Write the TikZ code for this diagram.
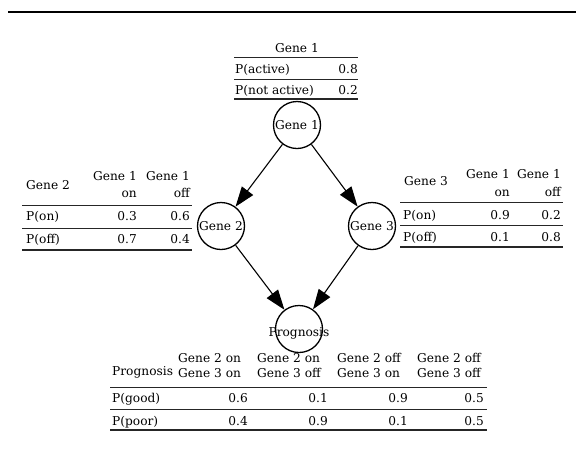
\documentclass[tikz,border=0pt]{standalone}
\usepackage{fontspec}
\setmainfont{DejaVu Serif}
\usetikzlibrary{arrows.meta}
\begin{document}
\begin{tikzpicture}[x=1pt,y=-1pt,font=\fontsize{12.2}{15}\selectfont,
  gnode/.style={circle,draw,line width=1.3pt,minimum size=47pt,inner sep=0pt},
  glabel/.style={inner sep=0pt},
  rulethin/.style={line width=0.8pt,black!85},
  rulethick/.style={line width=1.1pt,black!85},
  cell/.style={inner sep=0pt,anchor=base west},
  cellr/.style={inner sep=0pt,anchor=base east},
  hdr/.style={inner sep=0pt,align=left,anchor=north west,font=\fontsize{12.2}{15}\selectfont},
  edge/.style={line width=1.1pt,-{Triangle[length=20pt,width=14pt]}}]
\useasboundingbox (0,0) rectangle (576,459);
\draw[line width=2pt] (8,12) -- (576,12);

% Gene 1 table
\node[inner sep=0pt,anchor=base] (t1h) at (297,52) {Gene 1};
\draw[rulethin] (234,57) -- (358,57);
\node[cell] (t1a) at (235,73) {P(active)};
\node[cellr] (t1av) at (358,73) {0.8};
\draw[rulethin] (234,79) -- (358,79);
\node[cell] (t1n) at (235,94) {P(not active)};
\node[cellr] (t1nv) at (358,94) {0.2};
\draw[rulethick] (234,99) -- (358,99);

% nodes
\node[gnode,label={[glabel]center:Gene 1}] (g1) at (297,125) {};
\node[gnode,label={[glabel]center:Gene 2}] (g2) at (221,226) {};
\node[gnode,label={[glabel]center:Gene 3}] (g3) at (372,226) {};
\node[gnode,label={[glabel,yshift=-4pt]center:Prognosis}] (pr) at (299,329) {};

\draw[edge] (g1) -- (g2);
\draw[edge] (g1) -- (g3);
\draw[edge] (g2) -- (pr);
\draw[edge] (g3) -- (pr);

% Gene 2 table
\node[cell] (t2h) at (26,189) {Gene 2};
\node[cellr] (t2c1a) at (137,180) {Gene 1};
\node[cellr] (t2c1b) at (137,197) {on};
\node[cellr] (t2c2a) at (190,180) {Gene 1};
\node[cellr] (t2c2b) at (190,197) {off};
\draw[rulethin] (22,205) -- (192,205);
\node[cell] (t2r1) at (26,220) {P(on)};
\node[cellr] at (137,220) {0.3};
\node[cellr] at (190,220) {0.6};
\draw[rulethin] (22,228) -- (192,228);
\node[cell] (t2r2) at (26,243) {P(off)};
\node[cellr] at (137,243) {0.7};
\node[cellr] at (190,243) {0.4};
\draw[rulethick] (22,250) -- (192,250);

% Gene 3 table
\node[cell] (t3h) at (404,185) {Gene 3};
\node[cellr] (t3c1a) at (510,178) {Gene 1};
\node[cellr] (t3c1b) at (510,196) {on};
\node[cellr] (t3c2a) at (561,178) {Gene 1};
\node[cellr] (t3c2b) at (561,196) {off};
\draw[rulethin] (400,202) -- (563,202);
\node[cell] (t3r1) at (403,219) {P(on)};
\node[cellr] at (510,219) {0.9};
\node[cellr] at (561,219) {0.2};
\draw[rulethin] (400,225) -- (563,225);
\node[cell] (t3r2) at (403,241) {P(off)};
\node[cellr] at (510,241) {0.1};
\node[cellr] at (561,241) {0.8};
\draw[rulethick] (400,247) -- (563,247);

% Prognosis table
\node[cell] (tph) at (112,375) {Prognosis};
\node[hdr] (tpc1) at (178,353) {Gene 2 on\\Gene 3 on};
\node[hdr] (tpc2) at (257,353) {Gene 2 on\\Gene 3 off};
\node[hdr] (tpc3) at (337,353) {Gene 2 off\\Gene 3 on};
\node[hdr] (tpc4) at (417,353) {Gene 2 off\\Gene 3 off};
\draw[rulethin] (110,387) -- (487,387);
\node[cell] (tpr1) at (112,402) {P(good)};
\node[cellr] at (248,402) {0.6};
\node[cellr] at (328,402) {0.1};
\node[cellr] at (408,402) {0.9};
\node[cellr] at (484,402) {0.5};
\draw[rulethin] (110,409) -- (487,409);
\node[cell] (tpr2) at (112,425) {P(poor)};
\node[cellr] at (248,425) {0.4};
\node[cellr] at (328,425) {0.9};
\node[cellr] at (408,425) {0.1};
\node[cellr] at (484,425) {0.5};
\draw[rulethick] (110,430) -- (487,430);
\end{tikzpicture}
\end{document}
